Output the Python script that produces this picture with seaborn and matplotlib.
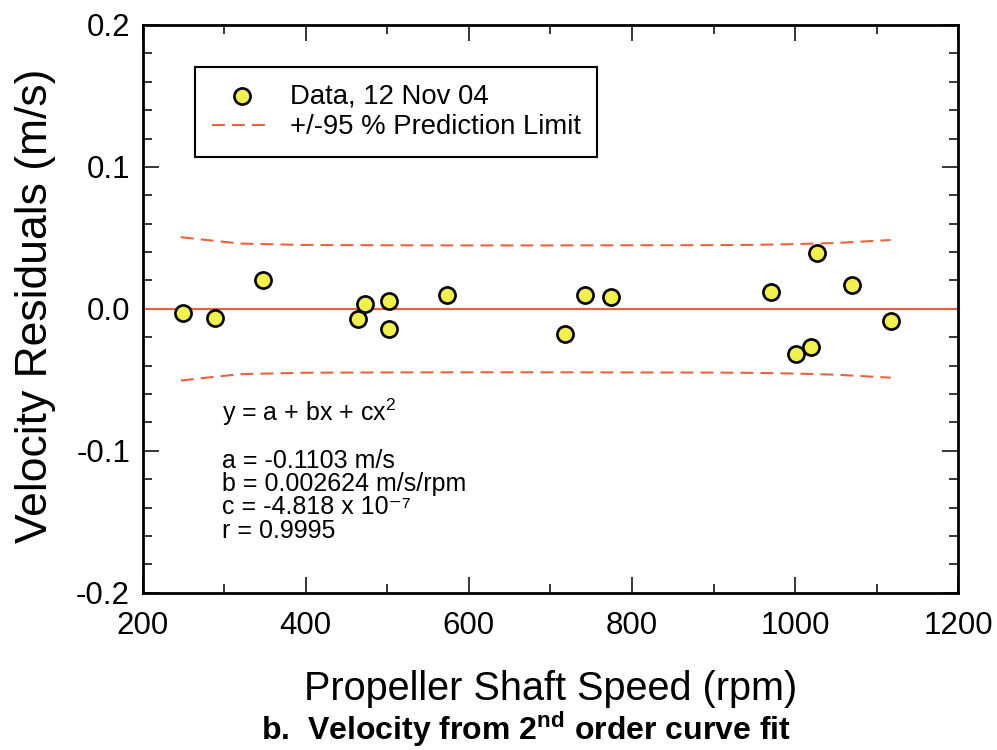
import matplotlib
matplotlib.use("Agg")
import numpy as np
import pandas as pd
import seaborn as sns
import matplotlib.pyplot as plt
from matplotlib.ticker import FixedLocator, FixedFormatter, MultipleLocator

# ---- data ----
speed = [249.3, 288.5, 348.0, 464.5, 472.7, 502.5, 502.5, 573.6, 717.5,
         742.4, 774.3, 970.4, 1000.7, 1019.8, 1026.4, 1069.3, 1117.2]
resid = [-0.0030, -0.0062, 0.0201, -0.0074, 0.0034, 0.0053, -0.0140, 0.0095,
         -0.0180, 0.0100, 0.0083, 0.0118, -0.0319, -0.0269, 0.0396, 0.0166, -0.0086]

limit_x = [247, 280, 320, 400, 500, 600, 700, 800, 900, 950, 1000, 1050, 1117]
limit_upper = [0.0505, 0.0484, 0.0460, 0.0450, 0.0448, 0.0447, 0.0447, 0.0448,
               0.0449, 0.0451, 0.0456, 0.0464, 0.0485]
limit_lower = [-v for v in limit_upper]

xticks = [200, 400, 600, 800, 1000, 1200]
xtick_labels = ["200", "400", "600", "800", "1000", "1200"]
yticks = [-0.2, -0.1, 0.0, 0.1, 0.2]
ytick_labels = ["-0.2", "-0.1", "0.0", "0.1", "0.2"]

legend_labels = ["Data, 12 Nov 04", "+/-95 % Prediction Limit"]
fit_equation = r"y = a + bx + cx$^{\mathregular{2}}$"
fit_params = ["a = -0.1103 m/s",
              "b = 0.002624 m/s/rpm",
              "c = -4.818 x 10\u207b\u2077",
              "r = 0.9995"]

# ---- styling ----
sns.set_style("ticks")
plt.rcParams["font.family"] = ["Liberation Sans", "DejaVu Sans"]
plt.rcParams["mathtext.fontset"] = "custom"
plt.rcParams["mathtext.rm"] = "Liberation Sans"
plt.rcParams["mathtext.bf"] = "Liberation Sans:bold"
plt.rcParams["axes.unicode_minus"] = False
for k in ["text.color", "axes.labelcolor", "xtick.color", "ytick.color", "axes.edgecolor"]:
    plt.rcParams[k] = "black"

RED = "#E8643F"
YEL = "#F2F04A"

fig = plt.figure(figsize=(9.97, 7.5), dpi=100)
ax = fig.add_axes([142.5 / 997, 1 - 592.7 / 750, (958.3 - 142.5) / 997, (592.7 - 25) / 750])

df_pts = pd.DataFrame({"speed": speed, "resid": resid})
df_lim = pd.DataFrame({"x": limit_x, "up": limit_upper, "lo": limit_lower})

ax.axhline(0.0, color=RED, lw=1.6, zorder=2)
sns.lineplot(data=df_lim, x="x", y="up", ax=ax, color=RED, lw=1.5,
             dashes=False, label=legend_labels[1], zorder=2)
sns.lineplot(data=df_lim, x="x", y="lo", ax=ax, color=RED, lw=1.5,
             dashes=False, zorder=2)
for ln in ax.get_lines()[1:]:
    ln.set_dashes((6.2, 3.4))
sns.scatterplot(data=df_pts, x="speed", y="resid", ax=ax, s=135, color=YEL,
                edgecolor="black", linewidth=1.9, label=legend_labels[0], zorder=3)

ax.set_xlim(200, 1200)
ax.set_ylim(-0.2, 0.2)
ax.xaxis.set_major_locator(FixedLocator(xticks))
ax.xaxis.set_major_formatter(FixedFormatter(xtick_labels))
ax.xaxis.set_minor_locator(MultipleLocator(100))
ax.yaxis.set_major_locator(FixedLocator(yticks))
ax.yaxis.set_major_formatter(FixedFormatter(ytick_labels))
ax.yaxis.set_minor_locator(MultipleLocator(0.02))

for sp in ax.spines.values():
    sp.set_linewidth(2.0)
    sp.set_color("black")
    sp.set_visible(True)
ax.tick_params(which="both", direction="in", top=True, right=True, colors="black")
ax.tick_params(which="major", length=11.5, width=1.1)
ax.tick_params(which="minor", length=6.5, width=1.1)
ax.tick_params(axis="x", which="major", labelsize=22.5, pad=13)
ax.tick_params(axis="y", which="major", labelsize=22.5, pad=9)

ax.set_xlabel("Propeller Shaft Speed (rpm)", fontsize=28.5)
ax.xaxis.set_label_coords((551 - 142.5) / 815.8, (592.7 - 700) / 567.7)
ax.xaxis.label.set_verticalalignment("baseline")
ax.set_ylabel("Velocity Residuals (m/s)", fontsize=32)
ax.yaxis.set_label_coords((56 - 142.5) / 815.8, (592.7 - 306) / 567.7)

# legend
h, l = ax.get_legend_handles_labels()
order = [l.index(legend_labels[0]), l.index(legend_labels[1])]
leg = ax.legend([h[i] for i in order], [l[i] for i in order],
                loc="upper left", bbox_to_anchor=((195 - 142.5) / 815.8, (592.7 - 67) / 567.7),
                borderaxespad=0, fontsize=19.8, frameon=True, fancybox=False,
                framealpha=1, edgecolor="black", handlelength=2.2,
                handletextpad=0.65, borderpad=0.6, labelspacing=0.18,
                scatterpoints=1)
leg.get_frame().set_linewidth(1.5)

# fit annotation
tx = (222 - 142.5) / 815.8
ax.text(tx, (592.7 - 412) / 567.7, fit_equation, transform=ax.transAxes,
        fontsize=18, va="center", ha="left")
ax.text(tx, (592.7 - 449) / 567.7, "\n".join(fit_params), transform=ax.transAxes,
        fontsize=18, va="top", ha="left", linespacing=0.96)

fig.text(526 / 997, 1 - 740 / 750,
         r"b.  Velocity from 2$^{\mathbf{nd}}$ order curve fit",
         fontsize=23, fontweight="bold", ha="center", va="baseline")

fig.savefig("out.png", dpi=100)
